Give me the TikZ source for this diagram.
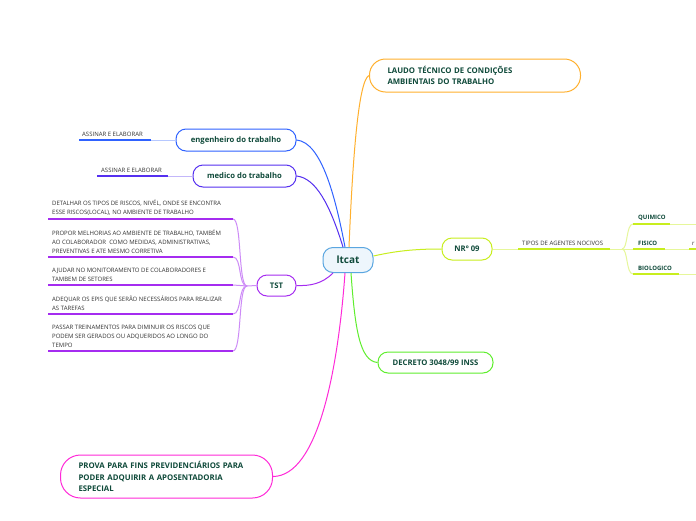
\documentclass[tikz,border=0pt]{standalone}
\usepackage{fontspec}
\setmainfont{Open Sans}
\usetikzlibrary{positioning}
\definecolor{ltink}{HTML}{0F4A3A}
\definecolor{ltsky}{HTML}{5AA6E0}
\definecolor{ltorange}{HTML}{FFB02E}
\definecolor{ltblue}{HTML}{2F62FF}
\definecolor{ltindigo}{HTML}{5530F0}
\definecolor{ltviolet}{HTML}{A52CF0}
\definecolor{ltlime}{HTML}{C8EE1E}
\definecolor{ltgreen}{HTML}{5FEE2E}
\definecolor{ltmagenta}{HTML}{FF2AD8}

\begin{document}
\begin{tikzpicture}[x=1pt, y=-1pt,
  topicbox/.style={rectangle, draw=#1, line width=1pt, fill=white, rounded corners=10pt,
    font=\fontsize{7.7}{9}\selectfont\bfseries, text=ltink, minimum height=22pt, inner xsep=0pt},
  blockbox/.style={rectangle, draw=#1, line width=1pt, fill=white,
    font=\fontsize{7.8}{11.5}\selectfont\bfseries, text=ltink, align=left, anchor=west, inner xsep=18pt},
  leaf/.style={font=\fontsize{6}{9}\selectfont, text=black!80, align=left, inner sep=1pt, anchor=south west},
  subleaf/.style={font=\fontsize{6}{9}\selectfont\bfseries, text=ltink, inner sep=1pt, anchor=south west},
  link/.style={draw=#1, line width=1pt},
  stem/.style={draw=#1, line width=1.6pt},
]
  \fill[white] (0,0) rectangle (696,520);
  \useasboundingbox (0,0) rectangle (696,520);

  % central topic
  \node[rectangle, draw=ltsky, line width=1pt, fill=ltsky!10, rounded corners=10pt,
    minimum width=50pt, minimum height=25pt, font=\fontsize{10}{12}\selectfont\bfseries, text=ltink]
    (ltcat) at (348,260) {ltcat};

  % main topics
  \node[blockbox=ltorange, rounded corners=16pt, text width=175pt, minimum height=33pt]
    (laudo) at (369,75.5) {LAUDO TÉCNICO DE CONDIÇÕES\\AMBIENTAIS DO TRABALHO};
  \node[topicbox=ltblue, minimum width=120pt] (eng) at (236,140) {engenheiro do trabalho};
  \node[topicbox=ltindigo, minimum width=103pt] (med) at (244.5,176) {medico do trabalho};
  \node[topicbox=ltviolet, minimum width=39pt, minimum height=21pt] (tst) at (276.5,285.5) {TST};
  \node[topicbox=ltlime, minimum width=50pt] (nr) at (467,249) {NRº 09};
  \node[topicbox=ltgreen, minimum width=115pt, minimum height=21pt] (decreto) at (435.5,362.5) {DECRETO 3048/99 INSS};
  \node[blockbox=ltmagenta, rounded corners=20pt, text width=176pt, minimum height=43pt]
    (prova) at (60,476.5) {PROVA PARA FINS PREVIDENCIÁRIOS PARA\\PODER ADQUIRIR A APOSENTADORIA\\ESPECIAL};

  % links from the centre
  \draw[link=ltorange] ([xshift=1pt]ltcat.north) .. controls (353,150) and (359,80) .. (laudo.west);
  \draw[link=ltblue] ([xshift=-3pt]ltcat.north) .. controls (336,200) and (322,142) .. (eng.east);
  \draw[link=ltindigo] ([xshift=-5pt]ltcat.north) .. controls (330,205) and (316,178) .. (med.east);
  \draw[link=ltviolet] ([xshift=-15pt]ltcat.south) .. controls (322,284) and (310,286) .. (tst.east);
  \draw[link=ltlime] ([yshift=4pt]ltcat.east) .. controls (400,250) and (420,249) .. (nr.west);
  \draw[link=ltgreen] ([xshift=3pt]ltcat.south) .. controls (355,330) and (360,361) .. (decreto.west);
  \draw[link=ltmagenta] ([xshift=-3pt]ltcat.south) .. controls (338,370) and (318,476) .. (prova.east);

  % engenheiro / medico
  \coordinate (engA) at (79,140);
  \coordinate (engB) at (151,140);
  \node[leaf] (assEng) at (81,138) {ASSINAR E ELABORAR};
  \draw[stem=ltblue] (engA) -- (engB);
  \draw[link=ltblue!35] (engB) -- (eng.west);

  \coordinate (medA) at (97,176);
  \coordinate (medB) at (168,176);
  \node[leaf] (assMed) at (100,174) {ASSINAR E ELABORAR};
  \draw[stem=ltindigo] (medA) -- (medB);
  \draw[link=ltindigo!35] (medB) -- (med.west);

  % TST
  \coordinate (tstfork) at (247,286);
  \draw[link=ltviolet!55] (tst.west) -- (tstfork);
  \node[leaf] (tstA) at (51,217) {DETALHAR OS TIPOS DE RISCOS, NIVÉL, ONDE SE ENCONTRA\\ESSE RISCOS(LOCAL), NO AMBIENTE DE TRABALHO};
  \node[leaf] (tstB) at (51,255) {PROPOR MELHORIAS AO AMBIENTE DE TRABALHO, TAMBÉM\\AO COLABORADOR\ \ COMO MEDIDAS, ADMINISTRATIVAS,\\PREVENTIVAS E ATE MESMO CORRETIVA};
  \node[leaf] (tstC) at (51,283) {AJUDAR NO MONITORAMENTO DE COLABORADORES E\\TAMBEM DE SETORES};
  \node[leaf] (tstD) at (51,312) {ADEQUAR OS EPIS QUE SERÃO NECESSÁRIOS PARA REALIZAR\\AS TAREFAS};
  \node[leaf] (tstE) at (51,349) {PASSAR TREINAMENTOS PARA DIMINUIR OS RISCOS QUE\\PODEM SER GERADOS OU ADQUERIDOS AO LONGO DO\\TEMPO};
  \coordinate (tstA0) at (48,219);  \coordinate (tstA1) at (233,219);
  \coordinate (tstB0) at (48,257);  \coordinate (tstB1) at (233,257);
  \coordinate (tstC0) at (48,285);  \coordinate (tstC1) at (233,285);
  \coordinate (tstD0) at (48,314);  \coordinate (tstD1) at (233,314);
  \coordinate (tstE0) at (48,351);  \coordinate (tstE1) at (233,351);
  \draw[link=ltviolet!55] (tstfork) .. controls (238,286) and (242,219) .. (tstA1);
  \draw[link=ltviolet!55] (tstfork) .. controls (238,286) and (242,257) .. (tstB1);
  \draw[link=ltviolet!55] (tstfork) -- (tstC1);
  \draw[link=ltviolet!55] (tstfork) .. controls (238,286) and (242,314) .. (tstD1);
  \draw[link=ltviolet!55] (tstfork) .. controls (238,286) and (242,351) .. (tstE1);
  \draw[stem=ltviolet] (tstA0) -- (tstA1);
  \draw[stem=ltviolet] (tstB0) -- (tstB1);
  \draw[stem=ltviolet] (tstC0) -- (tstC1);
  \draw[stem=ltviolet] (tstD0) -- (tstD1);
  \draw[stem=ltviolet] (tstE0) -- (tstE1);

  % NR 09
  \coordinate (tiposA) at (518,249);
  \coordinate (tiposB) at (610,249);
  \coordinate (nrfork) at (622,249);
  \node[leaf] (tipos) at (521,247) {TIPOS DE AGENTES NOCIVOS};
  \draw[link=ltlime!45] (nr.east) -- (tiposA);
  \draw[stem=ltlime] (tiposA) -- (tiposB);
  \draw[link=ltlime!45] (tiposB) -- (nrfork);

  \coordinate (quiA) at (633,224); \coordinate (quiB) at (670,224); \coordinate (quiC) at (696,224);
  \coordinate (fisA) at (633,249); \coordinate (fisB) at (665,249); \coordinate (fisC) at (689,249);
  \coordinate (bioA) at (633,274); \coordinate (bioB) at (679,274); \coordinate (bioC) at (696,274);
  \node[subleaf] (quimico) at (637,222) {QUIMICO};
  \node[subleaf] (fisico) at (637,247) {FISICO};
  \node[subleaf] (bio) at (637,272) {BIOLOGICO};
  \node[leaf] (fisR) at (691,247) {r};
  \draw[link=ltlime!45] (nrfork) .. controls (628,249) and (626,224) .. (quiA);
  \draw[link=ltlime!45] (nrfork) -- (fisA);
  \draw[link=ltlime!45] (nrfork) .. controls (628,249) and (626,274) .. (bioA);
  \draw[stem=ltlime] (quiA) -- (quiB);
  \draw[link=ltlime!45] (quiB) -- (quiC);
  \draw[stem=ltlime] (fisA) -- (fisB);
  \draw[link=ltlime!45] (fisB) -- (fisC);
  \draw[stem=ltlime] (fisC) -- ([xshift=10pt]fisC);
  \draw[stem=ltlime] (bioA) -- (bioB);
  \draw[link=ltlime!45] (bioB) -- (bioC);
\end{tikzpicture}
\end{document}
